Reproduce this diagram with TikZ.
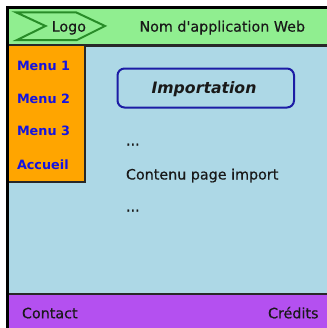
\documentclass[tikz,border=0pt]{standalone}
\usepackage{fontspec}
\setmainfont{DejaVu Sans}
\newfontfamily\heavyfont{DejaVu Sans}[FakeBold=0.5]
\definecolor{hdrgreen}{RGB}{144,238,144}
\definecolor{bodyblue}{RGB}{173,216,230}
\definecolor{menuorange}{RGB}{255,165,0}
\definecolor{footpurple}{RGB}{180,80,240}
\definecolor{chevgreen}{RGB}{40,140,40}
\definecolor{boxblue}{RGB}{28,28,165}
\definecolor{menublue}{RGB}{20,20,225}
\definecolor{edgegray}{RGB}{40,40,40}
\tikzset{
  txt/.style={inner sep=0pt, outer sep=0pt, font=\heavyfont\fontsize{14.3bp}{17bp}\selectfont, text=black!90},
  menutxt/.style={inner sep=0pt, outer sep=0pt, font=\fontsize{12.8bp}{15bp}\selectfont\bfseries, text=menublue},
  titletxt/.style={inner sep=0pt, font=\fontsize{15.7bp}{18bp}\selectfont\bfseries\itshape, text=black!90},
}
\begin{document}
\begin{tikzpicture}[x=1bp,y=-1bp]
\useasboundingbox (0,0) rectangle (327,328);
\begin{scope}
\clip (0,0) rectangle (327,328);
% body
\fill[bodyblue] (7.3,7.3) rectangle (340,340);
% header
\fill[hdrgreen] (7.3,7.3) rectangle (340,45.3);
\draw[line width=2.5bp, edgegray] (7.3,45.3) -- (340,45.3);
% footer
\fill[footpurple] (7.3,293.8) rectangle (340,340);
\draw[line width=2bp, edgegray] (7.3,293.8) -- (340,293.8);
% menu
\draw[line width=2bp, draw=edgegray, fill=menuorange] (7.3,45.3) rectangle (85.3,181.7);
% outer frame
\draw[line width=2.5bp, black] (340,7.3) -- (7.3,7.3) -- (7.3,340);
\end{scope}
% logo chevron
\draw[line width=2bp, chevgreen, line join=miter] (16,12.3) -- (76,12.3) -- (105,26) -- (77,40) -- (17,40) -- (45.5,26) -- cycle;
\node[txt, anchor=base west] (logo) at (51.7,31.6) {Logo};
\node[txt, anchor=base west] (appname) at (139.5,31.6) {Nom d\char39application Web};
% menu items
\node[menutxt, anchor=base west] (m1) at (17,70) {Menu 1};
\node[menutxt, anchor=base west] (m2) at (17,103) {Menu 2};
\node[menutxt, anchor=base west] (m3) at (17,135.8) {Menu 3};
\node[menutxt, anchor=base west] (home) at (17,169) {Accueil};
% title box
\draw[line width=2bp, draw=boxblue, fill=bodyblue, rounded corners=7bp] (117.5,68.5) rectangle (294,107.5);
\node[titletxt, anchor=base] (title) at (204,93.3) {Importation};
% content
\node[txt, anchor=base west] (dots1) at (126,145.5) {...};
\node[txt, anchor=base west] (content) at (126,179.5) {Contenu page import};
\node[txt, anchor=base west] (dots2) at (126,211.5) {...};
% footer
\node[txt, anchor=base west] (contact) at (22,318.3) {Contact};
\node[txt, anchor=base east] (credits) at (318.5,318.3) {Crédits};
\end{tikzpicture}
\end{document}
